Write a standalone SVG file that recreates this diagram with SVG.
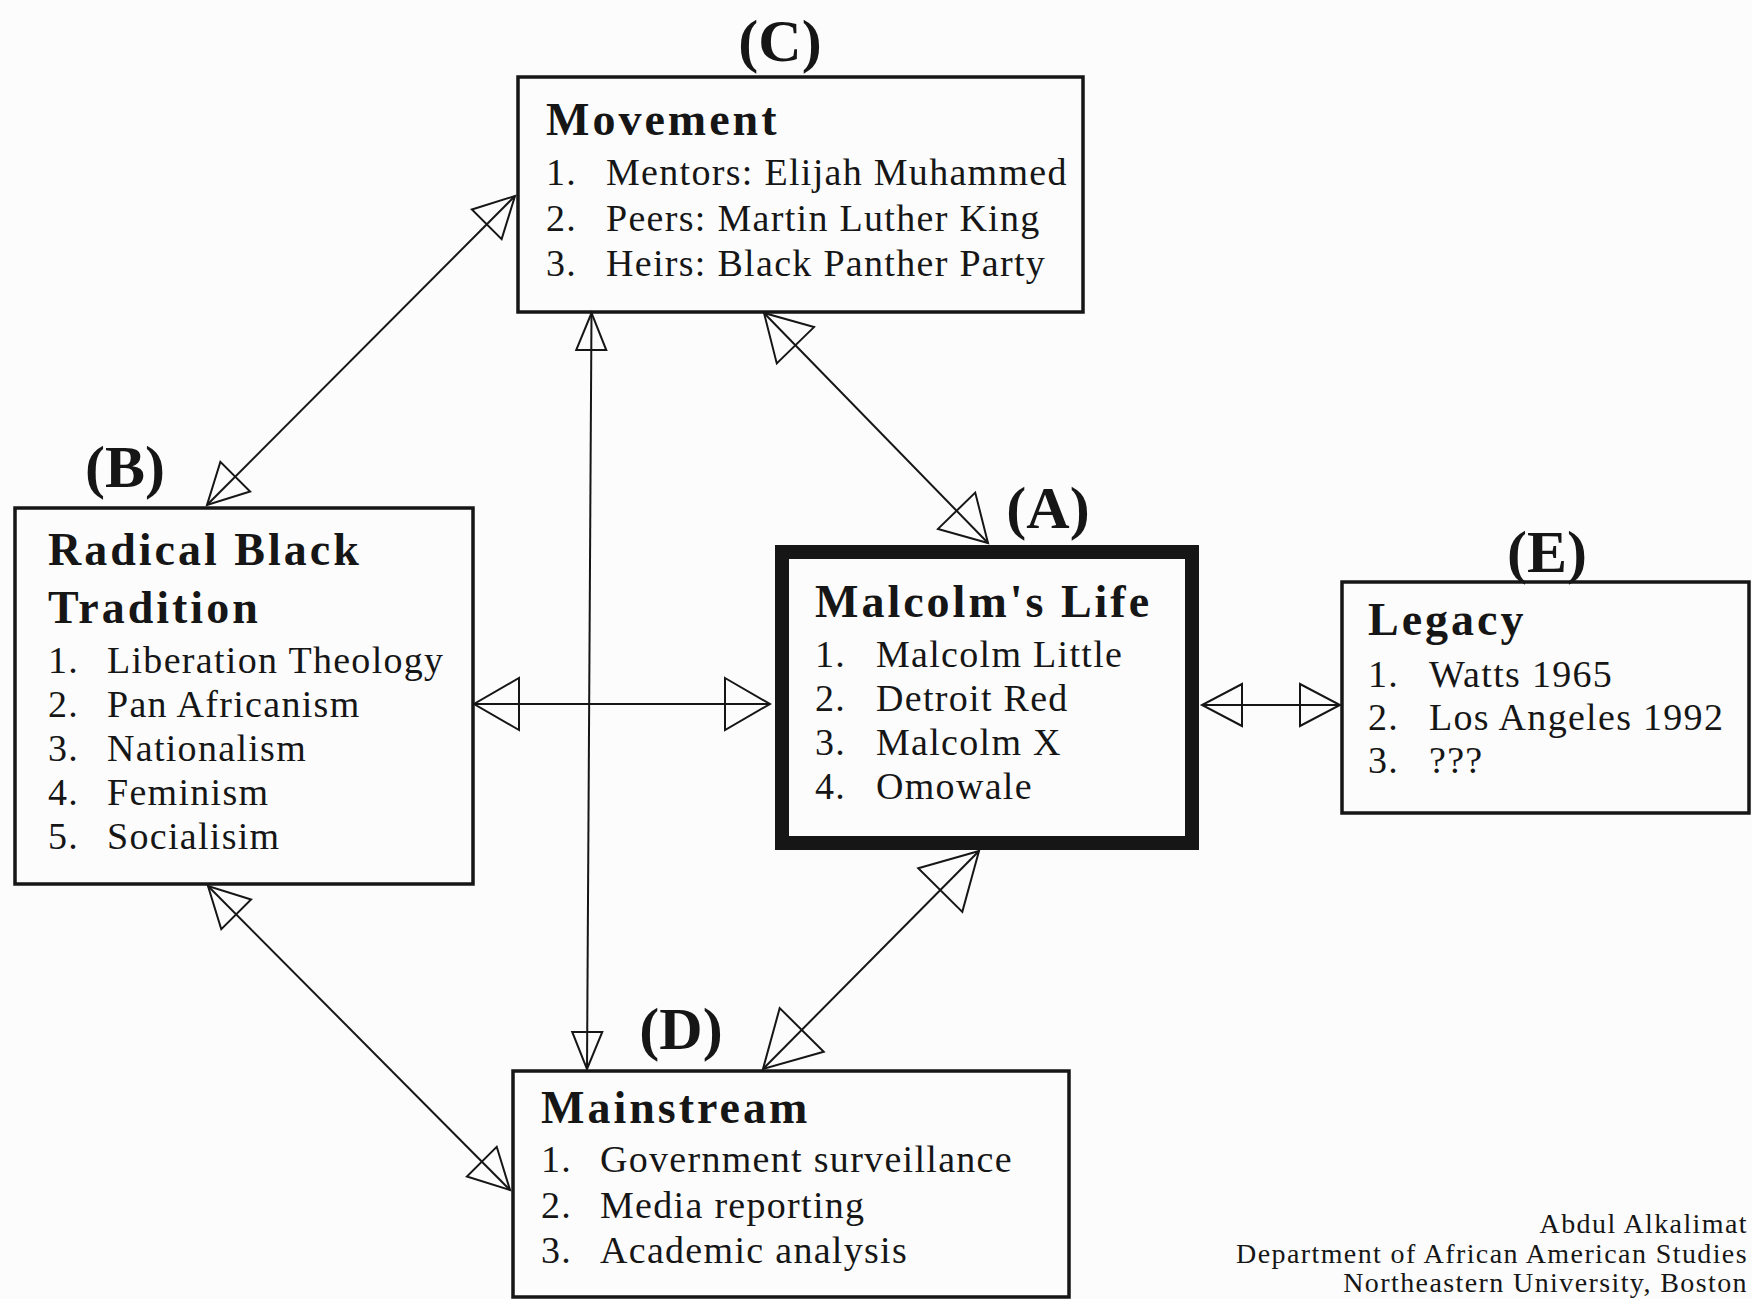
<svg xmlns="http://www.w3.org/2000/svg" width="1752" height="1299" viewBox="0 0 1752 1299">
<defs>
<style>
.box{fill:none;stroke:#161616;stroke-width:3.5}
.thick{fill:none;stroke:#161616;stroke-width:14}
.lbl{font-family:"Liberation Serif","Times New Roman",serif;font-weight:bold;font-size:60px;fill:#161616;text-anchor:middle}
.ttl{font-family:"Liberation Serif","Times New Roman",serif;font-weight:bold;font-size:46px;letter-spacing:3px;fill:#161616}
.itm{font-family:"Liberation Serif","Times New Roman",serif;font-size:38px;letter-spacing:1.3px;fill:#161616}
.foot{font-family:"Liberation Serif","Times New Roman",serif;font-size:28px;letter-spacing:1.4px;fill:#161616;text-anchor:end}
.con{fill:none;stroke:#161616;stroke-width:2}
.head{fill:none;stroke:#161616;stroke-width:2;stroke-linejoin:miter}
</style>
<marker id="ah" markerUnits="userSpaceOnUse" overflow="visible" markerWidth="40" markerHeight="42" viewBox="0 0 40 42" refX="40" refY="21" orient="auto-start-reverse"><path class="head" d="M0,0 L40,21 L0,42 Z"/></marker>
<marker id="ahS" markerUnits="userSpaceOnUse" overflow="visible" markerWidth="37" markerHeight="30" viewBox="0 0 37 30" refX="37" refY="15" orient="auto-start-reverse"><path class="head" d="M0,0 L37,15 L0,30 Z"/></marker>
<marker id="ahW" markerUnits="userSpaceOnUse" overflow="visible" markerWidth="45" markerHeight="52" viewBox="0 0 45 52" refX="45" refY="26" orient="auto-start-reverse"><path class="head" d="M0,0 L45,26 L0,52 Z"/></marker>
<marker id="ahL" markerUnits="userSpaceOnUse" overflow="visible" markerWidth="55" markerHeight="62" viewBox="0 0 55 62" refX="55" refY="31" orient="auto-start-reverse"><path class="head" d="M0,0 L55,31 L0,62 Z"/></marker>
</defs>
<rect x="0" y="0" width="1752" height="1299" fill="#fcfcfc"/>

<g id="connectors">
<line class="con" x1="207" y1="505" x2="515" y2="196" marker-start="url(#ah)" marker-end="url(#ah)"/>
<line class="con" x1="591.5" y1="313" x2="587" y2="1069" marker-start="url(#ahS)" marker-end="url(#ahS)"/>
<line class="con" x1="764" y1="313" x2="988" y2="543" marker-start="url(#ahW)" marker-end="url(#ahW)"/>
<line class="con" x1="474" y1="704" x2="770" y2="704" marker-start="url(#ahW)" marker-end="url(#ahW)"/>
<line class="con" x1="1202" y1="705" x2="1340" y2="705" marker-start="url(#ah)" marker-end="url(#ah)"/>
<line class="con" x1="979" y1="851" x2="763" y2="1069" marker-start="url(#ahL)" marker-end="url(#ahL)"/>
<line class="con" x1="208" y1="886" x2="510" y2="1190" marker-start="url(#ah)" marker-end="url(#ah)"/>
</g>

<g id="node-C">
<text class="lbl" x="780" y="61">(C)</text>
<rect class="box" x="518" y="77" width="565" height="235"/>
<text class="ttl" x="546" y="135">Movement</text>
<text class="itm" x="546" y="185">1.</text><text class="itm" x="606" y="185">Mentors: Elijah Muhammed</text>
<text class="itm" x="546" y="231">2.</text><text class="itm" x="606" y="231">Peers: Martin Luther King</text>
<text class="itm" x="546" y="276">3.</text><text class="itm" x="606" y="276">Heirs: Black Panther Party</text>
</g>

<g id="node-B">
<text class="lbl" x="125" y="487">(B)</text>
<rect class="box" x="15" y="508" width="458" height="376"/>
<text class="ttl" x="48" y="565">Radical Black</text>
<text class="ttl" x="48" y="623">Tradition</text>
<text class="itm" x="48" y="673">1.</text><text class="itm" x="107" y="673">Liberation Theology</text>
<text class="itm" x="48" y="717">2.</text><text class="itm" x="107" y="717">Pan Africanism</text>
<text class="itm" x="48" y="761">3.</text><text class="itm" x="107" y="761">Nationalism</text>
<text class="itm" x="48" y="805">4.</text><text class="itm" x="107" y="805">Feminism</text>
<text class="itm" x="48" y="849">5.</text><text class="itm" x="107" y="849">Socialisim</text>
</g>

<g id="node-A">
<text class="lbl" x="1048" y="528">(A)</text>
<rect class="thick" x="782" y="552" width="410" height="291"/>
<text class="ttl" x="815" y="617">Malcolm's Life</text>
<text class="itm" x="815" y="667">1.</text><text class="itm" x="876" y="667">Malcolm Little</text>
<text class="itm" x="815" y="711">2.</text><text class="itm" x="876" y="711">Detroit Red</text>
<text class="itm" x="815" y="755">3.</text><text class="itm" x="876" y="755">Malcolm X</text>
<text class="itm" x="815" y="799">4.</text><text class="itm" x="876" y="799">Omowale</text>
</g>

<g id="node-E">
<text class="lbl" x="1547" y="572">(E)</text>
<rect class="box" x="1342" y="582" width="407" height="231"/>
<text class="ttl" x="1368" y="635">Legacy</text>
<text class="itm" x="1368" y="687">1.</text><text class="itm" x="1429" y="687">Watts 1965</text>
<text class="itm" x="1368" y="730">2.</text><text class="itm" x="1429" y="730">Los Angeles 1992</text>
<text class="itm" x="1368" y="773">3.</text><text class="itm" x="1429" y="773">???</text>
</g>

<g id="node-D">
<text class="lbl" x="681" y="1049">(D)</text>
<rect class="box" x="513" y="1071" width="556" height="226"/>
<text class="ttl" x="541" y="1123">Mainstream</text>
<text class="itm" x="541" y="1172">1.</text><text class="itm" x="600" y="1172">Government surveillance</text>
<text class="itm" x="541" y="1218">2.</text><text class="itm" x="600" y="1218">Media reporting</text>
<text class="itm" x="541" y="1263">3.</text><text class="itm" x="600" y="1263">Academic analysis</text>
</g>

<g id="footer">
<text class="foot" x="1748" y="1233">Abdul Alkalimat</text>
<text class="foot" x="1748" y="1263">Department of African American Studies</text>
<text class="foot" x="1748" y="1292">Northeastern University, Boston</text>
</g>
</svg>
